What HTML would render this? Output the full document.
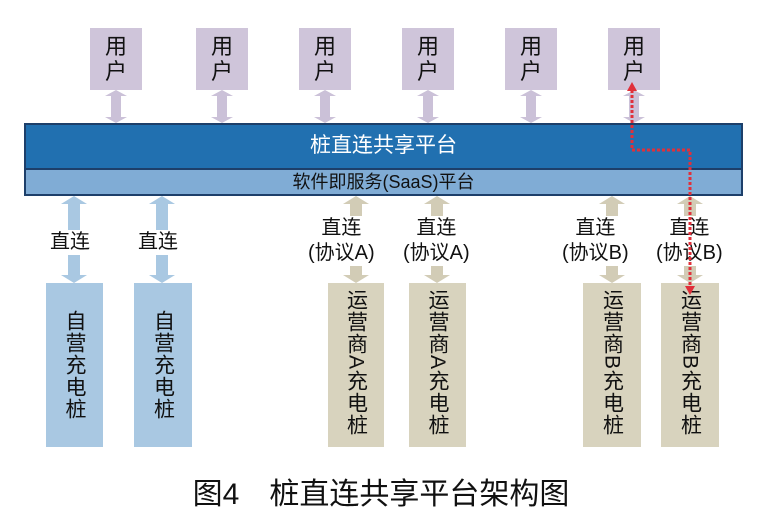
<!DOCTYPE html>
<html><head><meta charset="utf-8"><style>
body{margin:0;background:#fff;width:772px;height:529px;overflow:hidden;position:relative;font-family:"Liberation Sans","Noto Sans CJK SC",sans-serif}
.u{position:absolute;top:28px;width:52px;height:62px;background:#cfc5da;font-size:22px;line-height:25px;text-align:center;padding-top:6px;box-sizing:border-box;color:#111}
.p{position:absolute;top:283px;height:164px;writing-mode:vertical-rl;text-orientation:mixed;font-size:21px;line-height:1;display:flex;align-items:center;color:#111;letter-spacing:1px}
.b{background:#a9c8e2;justify-content:center}
.t{background:#d8d3be;justify-content:flex-start;padding-top:6px;box-sizing:border-box}
.l{position:absolute;font-size:20px;line-height:25px;text-align:center;color:#111;background:#fff}
</style></head><body>
<svg width="772" height="529" style="position:absolute;left:0;top:0">
<defs>
<g id="ua"><path d="M-5 6 L-5 27 L-11 27 L0 33 L11 27 L5 27 L5 6 L11 6 L0 0 L-11 6 Z" fill="#cbc1d8"/></g>
<g id="ba"><path d="M-6 8 L-6 79 L-13 79 L0 87 L13 79 L6 79 L6 8 L13 8 L0 0 L-13 8 Z"/></g>
</defs>
<use href="#ua" x="116" y="90"/><use href="#ua" x="222" y="90"/><use href="#ua" x="325" y="90"/>
<use href="#ua" x="428" y="90"/><use href="#ua" x="531" y="90"/><use href="#ua" x="634" y="90"/>
<rect x="24" y="123" width="719" height="73" fill="#1d3f6a"/>
<rect x="26" y="125" width="715" height="43" fill="#2170b0"/>
<rect x="26" y="170" width="715" height="24" fill="#80acd5"/>
<g fill="#a9c8e2"><use href="#ba" x="74" y="196"/><use href="#ba" x="162" y="196"/></g>
<g fill="#d2ccb6"><use href="#ba" x="356" y="196"/><use href="#ba" x="437" y="196"/><use href="#ba" x="612" y="196"/><use href="#ba" x="690" y="196"/></g>
</svg>
<div class="u" style="left:90px">用<br>户</div>
<div class="u" style="left:196px">用<br>户</div>
<div class="u" style="left:299px">用<br>户</div>
<div class="u" style="left:402px">用<br>户</div>
<div class="u" style="left:505px">用<br>户</div>
<div class="u" style="left:608px">用<br>户</div>
<div style="position:absolute;left:26px;width:715px;top:134px;text-align:center;color:#fff;font-size:21px;line-height:24px">桩直连共享平台</div>
<div style="position:absolute;left:26px;width:715px;top:170px;text-align:center;color:#111;font-size:18px;line-height:24px">软件即服务(SaaS)平台</div>
<div class="l" style="left:50px;top:230px">直连</div>
<div class="l" style="left:138px;top:230px">直连</div>
<div class="l" style="left:308px;top:216px">直连<br>(协议A)</div>
<div class="l" style="left:403px;top:216px">直连<br>(协议A)</div>
<div class="l" style="left:562px;top:216px">直连<br>(协议B)</div>
<div class="l" style="left:656px;top:216px">直连<br>(协议B)</div>
<div class="p b" style="left:46px;width:57px">自营充电桩</div>
<div class="p b" style="left:134px;width:58px">自营充电桩</div>
<div class="p t" style="left:328px;width:56px">运营商A充电桩</div>
<div class="p t" style="left:409px;width:57px">运营商A充电桩</div>
<div class="p t" style="left:583px;width:58px">运营商B充电桩</div>
<div class="p t" style="left:661px;width:58px">运营商B充电桩</div>
<svg width="772" height="529" style="position:absolute;left:0;top:0">
<path d="M632 90 L632 150 L690 150 L690 288" fill="none" stroke="#e0303a" stroke-width="3" stroke-dasharray="3 2"/>
<path d="M627 91 L632 82 L637 91 Z M685 286 L690 295 L695 286 Z" fill="#e0303a"/>
</svg>
<div style="position:absolute;left:0;width:772px;top:475px;text-align:center;font-size:30px;line-height:40px;color:#111;padding-right:10px;box-sizing:border-box">图4　桩直连共享平台架构图</div>
</body></html>
